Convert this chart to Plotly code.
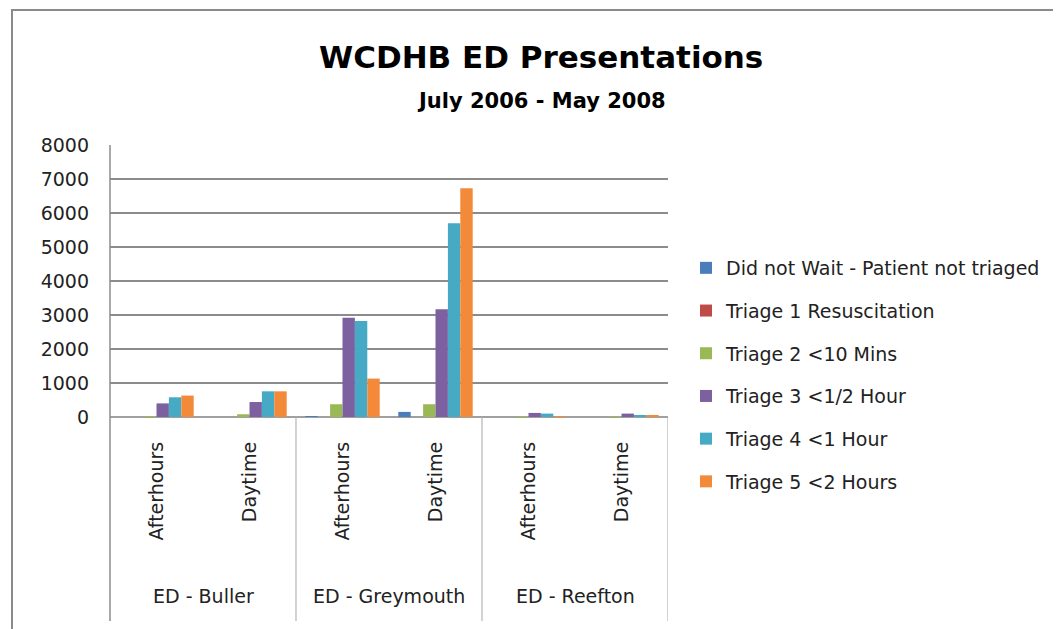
import plotly.graph_objects as go

# ---- data ----
groups = ["ED - Buller", "ED - Greymouth", "ED - Reefton"]
categories = ["Afterhours", "Daytime", "Afterhours", "Daytime", "Afterhours", "Daytime"]
series_names = [
    "Did not Wait - Patient not triaged",
    "Triage 1 Resuscitation",
    "Triage 2 <10 Mins",
    "Triage 3 <1/2 Hour",
    "Triage 4 <1 Hour",
    "Triage 5 <2 Hours",
]
did_not_wait = [0, 0, 20, 150, 0, 0]
triage1 = [0, 0, 0, 0, 0, 0]
triage2 = [20, 80, 375, 375, 10, 10]
triage3 = [400, 440, 2920, 3170, 120, 100]
triage4 = [580, 755, 2820, 5700, 100, 60]
triage5 = [630, 755, 1130, 6730, 20, 60]
y_ticks = [0, 1000, 2000, 3000, 4000, 5000, 6000, 7000, 8000]

series_values = [did_not_wait, triage1, triage2, triage3, triage4, triage5]
colors = ["#4A7EBB", "#BE4B48", "#98B954", "#7D60A0", "#46AAC5", "#F38A3A"]

OFF = 8  # page body margin
W, H = 1061 - OFF, 629 - OFF
# plot area in reference px
L, R, T, B = 110, 668, 145, 417
pw, ph = R - L, B - T

def px_x(x):
    return (x - L) / pw

def px_y(y):
    return (B - y) / ph

FONT = "DejaVu Sans, sans-serif"
xs = list(range(len(categories)))

fig = go.Figure()
for i, (name, vals) in enumerate(zip(series_names, series_values)):
    fig.add_trace(go.Bar(
        x=xs, y=vals, name=name,
        marker=dict(color=colors[i], line=dict(width=0)),
        legendgroup=f"g{i}",
    ))

shapes = []
# outer chart border
shapes.append(dict(type="rect", xref="paper", yref="paper",
                   x0=px_x(12), x1=px_x(1085), y0=px_y(660), y1=px_y(10),
                   line=dict(color="#8a8a8a", width=2), layer="below"))
# y-axis line extended through category area
shapes.append(dict(type="line", xref="paper", yref="paper",
                   x0=0, x1=0, y0=px_y(621), y1=1,
                   line=dict(color="#8c8c8c", width=1.5)))
# group dividers
for xv in [1.5, 3.5, 5.5]:
    shapes.append(dict(type="line", xref="x", yref="paper",
                       x0=xv, x1=xv, y0=px_y(621), y1=0,
                       line=dict(color="#b5b5b5", width=1.2)))

annotations = [
    dict(text="<b>WCDHB ED Presentations</b>", xref="paper", yref="paper",
         x=px_x(541), y=px_y(57), showarrow=False, xanchor="center", yanchor="middle",
         font=dict(family=FONT, size=31, color="#000")),
    dict(text="<b>July 2006 - May 2008</b>", xref="paper", yref="paper",
         x=px_x(541), y=px_y(101), showarrow=False, xanchor="center", yanchor="middle",
         font=dict(family=FONT, size=21, color="#000")),
]
for gi, g in enumerate(groups):
    annotations.append(dict(text=g, xref="x", yref="paper", x=gi * 2 + 0.5,
                            y=px_y(596), showarrow=False, xanchor="center",
                            yanchor="middle",
                            font=dict(family=FONT, size=19, color="#222")))

fig.update_layout(
    width=W, height=H,
    margin=dict(l=L - OFF, r=(1061 - R), t=T - OFF, b=(629 - B), pad=0),
    paper_bgcolor="white", plot_bgcolor="white",
    barmode="group", bargap=0.2, bargroupgap=0,
    font=dict(family=FONT, color="#222"),
    showlegend=True,
    legend=dict(x=px_x(686), y=px_y(249), xanchor="left", yanchor="top",
                font=dict(family=FONT, size=19, color="#222"),
                tracegroupgap=15, bgcolor="rgba(0,0,0,0)"),
    xaxis=dict(range=[-0.5, 5.5], tickmode="array", tickvals=xs, ticktext=categories,
               tickangle=-90, showgrid=False, zeroline=False, showline=False,
               ticks="", ticklabelstandoff=20,
               tickfont=dict(family=FONT, size=19, color="#222")),
    yaxis=dict(range=[0, 8000], tickmode="array", tickvals=y_ticks,
               ticktext=[str(v) for v in y_ticks],
               showgrid=True, gridcolor="#8c8c8c", gridwidth=1.5,
               zeroline=True, zerolinecolor="#a0a0a0", zerolinewidth=1.5,
               showline=False, ticks="", ticklabelstandoff=20,
               tickfont=dict(family=FONT, size=19, color="#222")),
    shapes=shapes, annotations=annotations,
)

fig.write_html("out.html")
